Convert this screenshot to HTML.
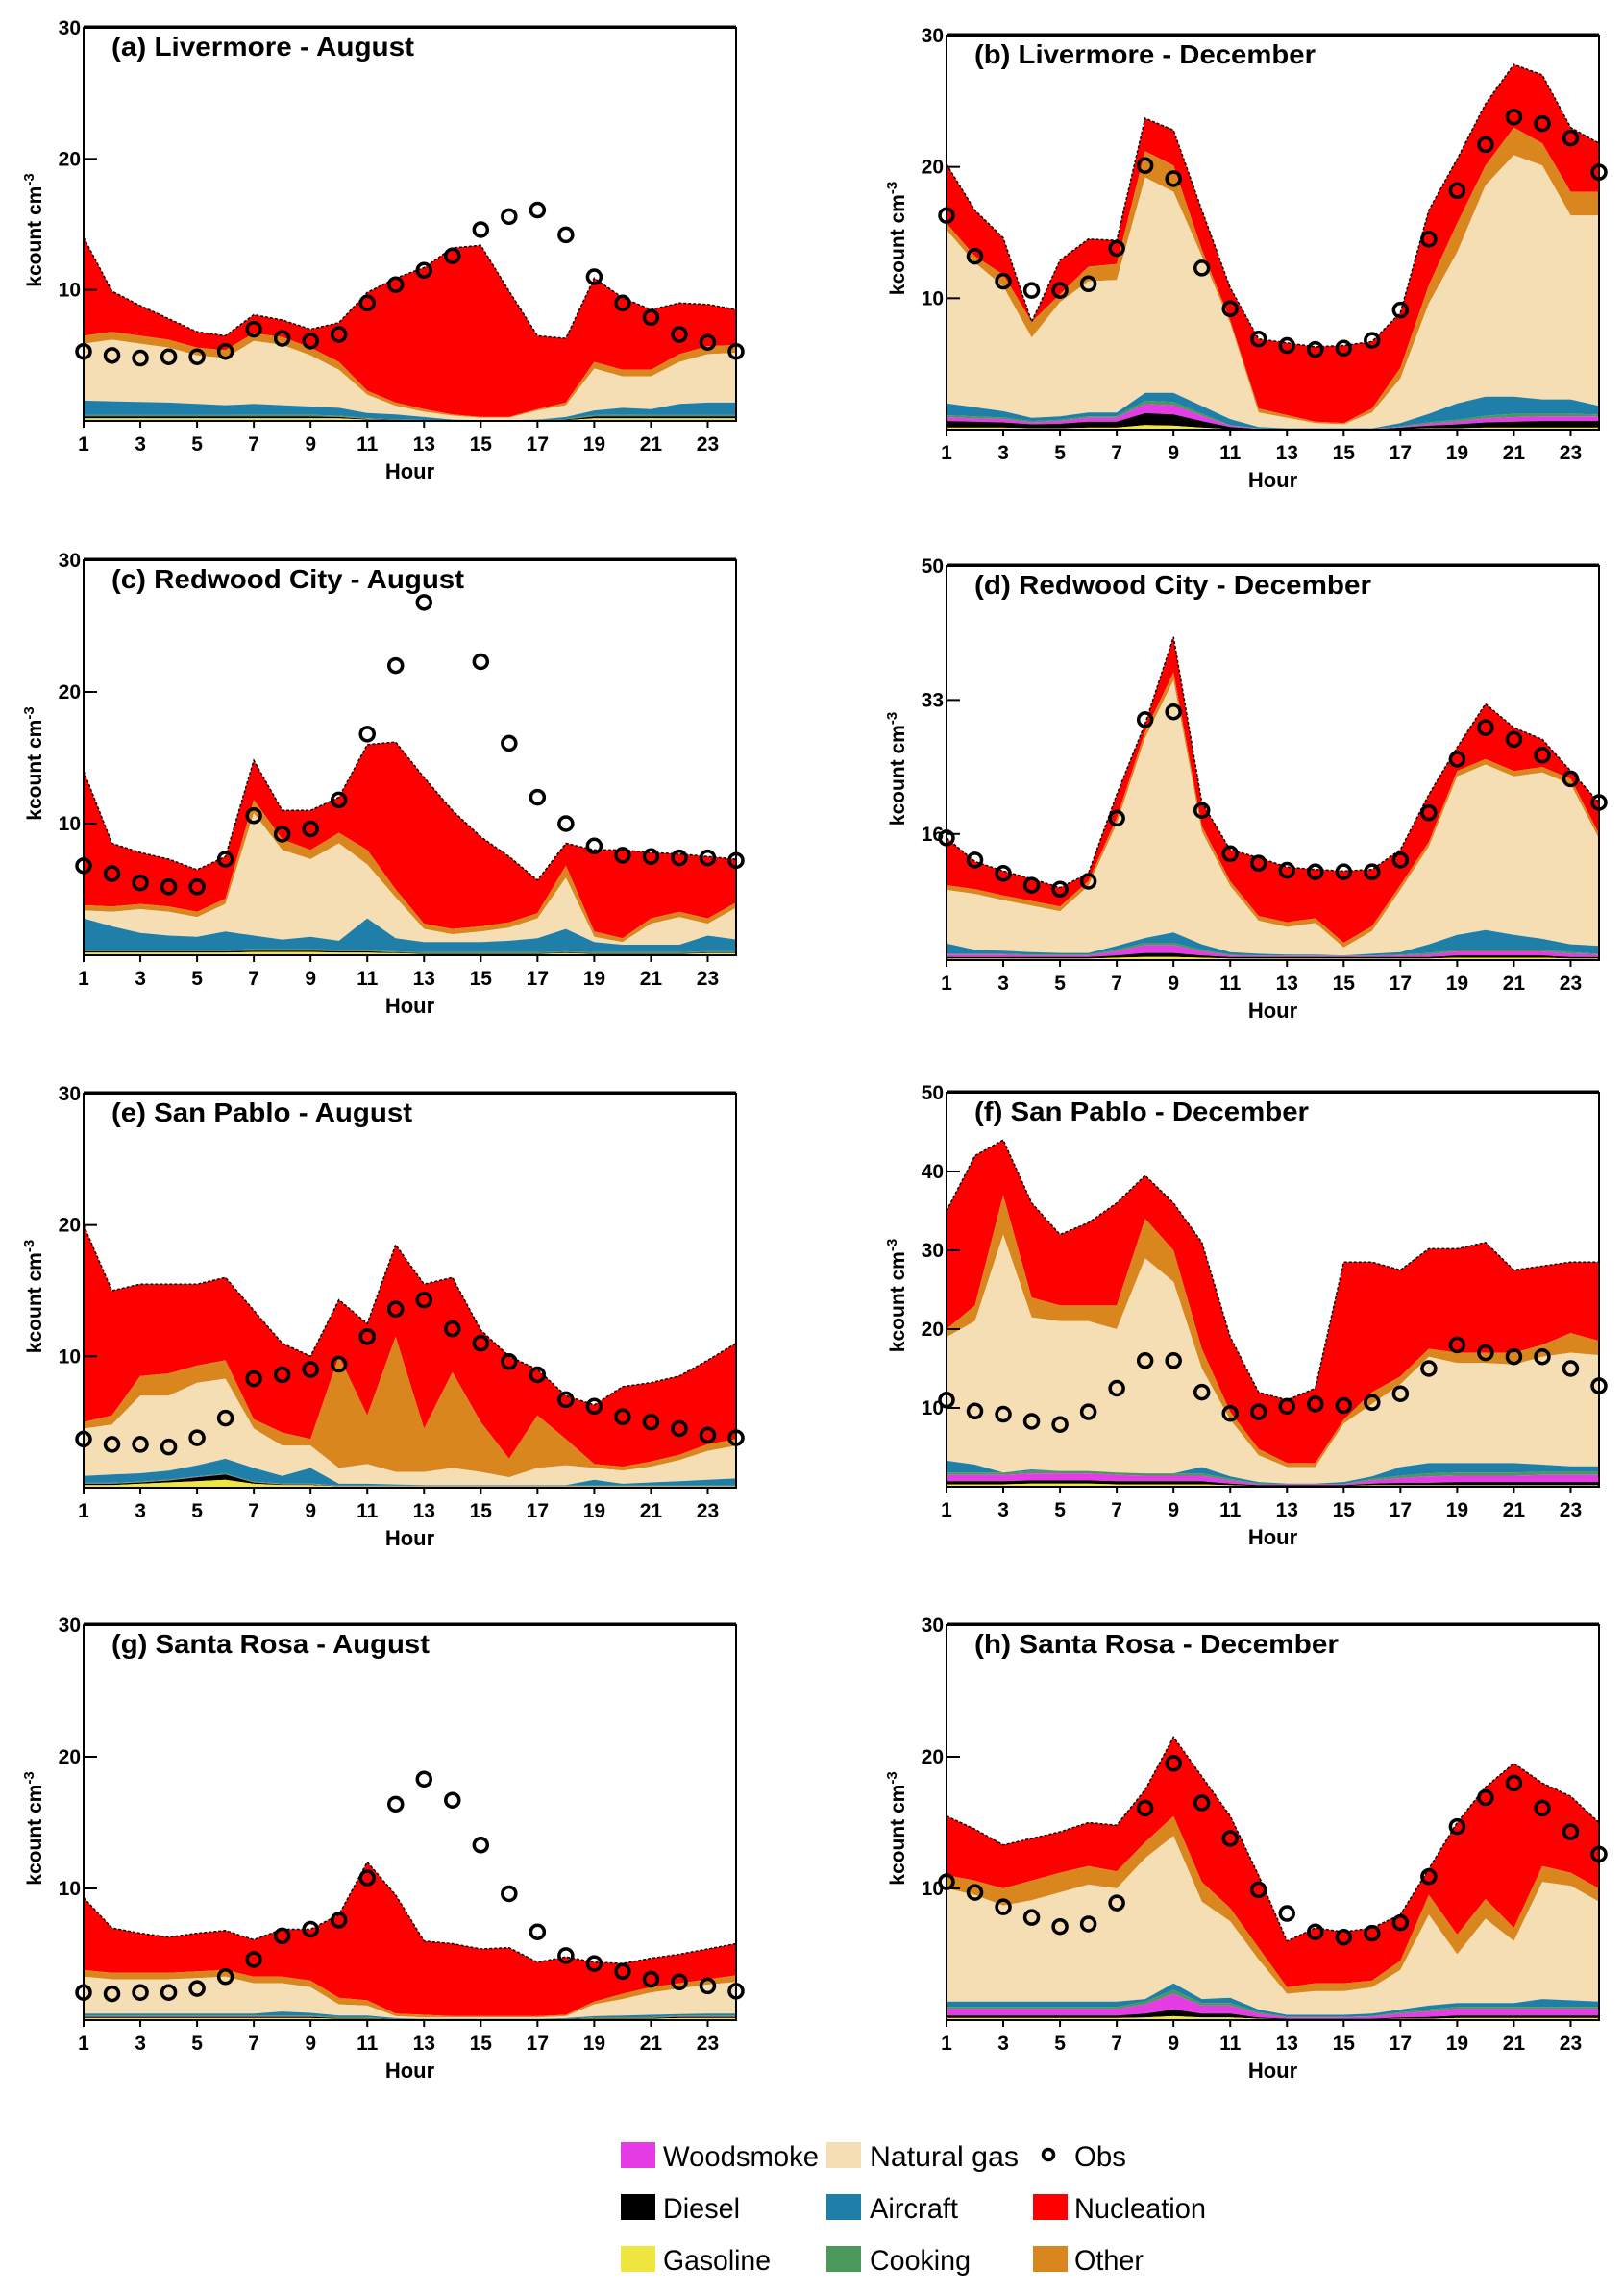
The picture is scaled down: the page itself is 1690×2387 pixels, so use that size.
<!DOCTYPE html>
<html><head><meta charset="utf-8"><style>
html,body{margin:0;padding:0;background:#fff}
svg{display:block}
.tl{font-family:"Liberation Sans Narrow","Liberation Sans",sans-serif;font-weight:bold;fill:#000}
.lg{font-family:"Liberation Sans",sans-serif;fill:#000;font-size:30px}
</style></head><body>
<svg id="fig" width="1690" height="2387" viewBox="0 0 1690 2387" xmlns="http://www.w3.org/2000/svg">
<rect width="1690" height="2387" fill="#fff"/>
<g id="legend">
<g><rect x="646" y="2229" width="36" height="27" fill="#e63ce6"/><text class="lg" x="690" y="2254" textLength="162" lengthAdjust="spacingAndGlyphs">Woodsmoke</text></g>
<g><rect x="860" y="2229" width="36" height="27" fill="#f5deb3"/><text class="lg" x="905" y="2254" textLength="155" lengthAdjust="spacingAndGlyphs">Natural  gas</text></g>
<g><circle cx="1091" cy="2242" r="5.5" fill="none" stroke="#000" stroke-width="3.5"/><text class="lg" x="1118" y="2254" textLength="54" lengthAdjust="spacingAndGlyphs">Obs</text></g>
<g><rect x="646" y="2283" width="36" height="27" fill="#000"/><text class="lg" x="690" y="2308" textLength="80" lengthAdjust="spacingAndGlyphs">Diesel</text></g>
<g><rect x="860" y="2283" width="36" height="27" fill="#1f7fa8"/><text class="lg" x="905" y="2308" textLength="92" lengthAdjust="spacingAndGlyphs">Aircraft</text></g>
<g><rect x="1075" y="2283" width="36" height="27" fill="#ff0000"/><text class="lg" x="1118" y="2308" textLength="137" lengthAdjust="spacingAndGlyphs">Nucleation</text></g>
<g><rect x="646" y="2337" width="36" height="27" fill="#f0e640"/><text class="lg" x="690" y="2362" textLength="112" lengthAdjust="spacingAndGlyphs">Gasoline</text></g>
<g><rect x="860" y="2337" width="36" height="27" fill="#4a985a"/><text class="lg" x="905" y="2362" textLength="105" lengthAdjust="spacingAndGlyphs">Cooking</text></g>
<g><rect x="1075" y="2337" width="36" height="27" fill="#d9861e"/><text class="lg" x="1118" y="2362" textLength="72" lengthAdjust="spacingAndGlyphs">Other</text></g>
</g>
</svg>
<script>
const HOURS = [1,2,3,4,5,6,7,8,9,10,11,12,13,14,15,16,17,18,19,20,21,22,23,24];
const XTICKS = [1,3,5,7,9,11,13,15,17,19,21,23];

// (a) Livermore - August
const A_GAS = [0.2,0.2,0.2,0.2,0.2,0.2,0.2,0.2,0.2,0.2,0.1,0.05,0.03,0.02,0.02,0.02,0.03,0.05,0.2,0.2,0.2,0.2,0.2,0.2];
const A_DIESEL = [0.15,0.15,0.15,0.15,0.15,0.15,0.15,0.15,0.15,0.1,0.05,0.03,0.02,0.01,0.01,0.01,0.02,0.05,0.15,0.15,0.15,0.15,0.15,0.15];
const A_WOOD = [0.02,0.02,0.02,0.02,0.02,0.02,0.02,0.02,0.02,0.02,0.01,0,0,0,0,0,0,0,0.02,0.02,0.02,0.02,0.02,0.02];
const A_COOK = [0.08,0.08,0.08,0.08,0.08,0.08,0.1,0.1,0.1,0.08,0.05,0.03,0.02,0.01,0.01,0.01,0.02,0.05,0.08,0.1,0.08,0.08,0.08,0.08];
const A_AIR_TOP = [1.55,1.5,1.45,1.4,1.3,1.2,1.3,1.2,1.1,1.0,0.6,0.5,0.3,0.1,0.05,0.05,0.1,0.3,0.8,1.0,0.9,1.3,1.4,1.4];
const A_NG_TOP = [5.9,6.2,5.9,5.6,5.0,4.8,6.1,5.8,5.0,3.9,2.0,1.15,0.7,0.4,0.25,0.25,0.8,1.2,4.0,3.4,3.4,4.5,5.1,5.2];
const A_OTHER_TOP = [6.5,6.8,6.5,6.2,5.6,5.4,6.7,6.4,5.6,4.5,2.3,1.4,0.9,0.5,0.3,0.3,0.9,1.4,4.5,3.9,3.9,5.1,5.7,5.8];
const A_TOTAL = [14,9.9,8.8,7.8,6.8,6.5,8.1,7.7,7.0,7.5,9.8,10.9,11.7,13.2,13.4,9.9,6.5,6.3,10.9,9.4,8.5,9,8.9,8.5];
const A_OBS = [5.3,5.0,4.8,4.9,4.9,5.3,7.0,6.3,6.1,6.6,9.0,10.4,11.5,12.6,14.6,15.6,16.1,14.2,11.0,9.0,7.9,6.6,6.0,5.3];

// (b) Livermore - December
const B_GAS = [0.15,0.15,0.15,0.1,0.1,0.15,0.15,0.35,0.3,0.15,0.05,0.02,0.01,0.01,0.01,0.01,0.05,0.1,0.1,0.15,0.15,0.15,0.15,0.15];
const B_DIESEL = [0.5,0.45,0.4,0.3,0.35,0.45,0.45,0.9,0.85,0.5,0.15,0.03,0.02,0.01,0.01,0.02,0.1,0.2,0.3,0.4,0.45,0.5,0.5,0.5];
const B_WOOD = [0.3,0.25,0.25,0.15,0.2,0.3,0.3,0.7,0.7,0.4,0.1,0.02,0.01,0,0,0.01,0.05,0.15,0.2,0.3,0.35,0.35,0.35,0.35];
const B_COOK = [0.15,0.15,0.12,0.1,0.1,0.12,0.12,0.25,0.25,0.15,0.05,0.02,0,0,0,0,0.05,0.1,0.15,0.2,0.25,0.2,0.2,0.15];
const B_AIR_TOP = [2.0,1.7,1.4,0.9,1.0,1.3,1.3,2.8,2.8,1.8,0.8,0.2,0.1,0.1,0.1,0.1,0.5,1.2,2.0,2.5,2.5,2.3,2.3,1.8];
const B_NG_TOP = [15.2,12.7,10.9,7.0,9.7,11.3,11.4,19.2,18.1,13.2,8.1,1.3,0.9,0.5,0.4,1.3,3.9,9.6,13.5,18.6,20.9,20.1,16.3,16.3];
const B_OTHER_TOP = [15.7,13.2,11.8,8.2,10.3,12.4,12.6,21.2,20.1,13.7,8.3,1.6,1.1,0.6,0.5,1.6,4.7,11,15.7,20.1,23,21.8,18.1,18.1];
const B_TOTAL = [20.2,16.7,14.6,8.2,12.9,14.5,14.4,23.7,22.8,16.7,10.8,6.9,6.6,6.3,6.4,6.7,8.9,16.7,20.6,24.8,27.8,27,23,21.8];
const B_OBS = [16.3,13.2,11.3,10.6,10.6,11.1,13.8,20.1,19.1,12.3,9.2,6.9,6.4,6.1,6.2,6.8,9.1,14.5,18.2,21.7,23.8,23.3,22.2,19.6];

// (c) Redwood City - August
const C_GAS = [0.2,0.2,0.2,0.2,0.2,0.2,0.25,0.25,0.25,0.2,0.2,0.15,0.1,0.1,0.1,0.1,0.1,0.15,0.1,0.1,0.1,0.1,0.15,0.15];
const C_DIESEL = [0.1,0.1,0.1,0.1,0.1,0.1,0.1,0.1,0.1,0.1,0.1,0.05,0.05,0.05,0.05,0.05,0.05,0.05,0.05,0.05,0.05,0.05,0.05,0.05];
const C_WOOD = [0.02,0.02,0.02,0.02,0.02,0.02,0.02,0.02,0.02,0.02,0.02,0.02,0.02,0.02,0.02,0.02,0.02,0.02,0.02,0.02,0.02,0.02,0.02,0.02];
const C_COOK = [0.08,0.08,0.08,0.08,0.08,0.08,0.1,0.1,0.1,0.1,0.1,0.08,0.08,0.08,0.08,0.08,0.08,0.08,0.08,0.08,0.08,0.08,0.08,0.08];
const C_AIR_TOP = [2.8,2.2,1.7,1.5,1.4,1.8,1.5,1.2,1.4,1.1,2.8,1.3,1.0,1.0,1.0,1.1,1.3,2.0,1.0,0.8,0.8,0.8,1.5,1.2];
const C_NG_TOP = [3.4,3.3,3.5,3.3,2.9,3.9,10.8,8.0,7.3,8.5,6.9,4.4,2.0,1.6,1.8,2.1,2.8,5.9,1.4,1.0,2.4,2.9,2.4,3.6];
const C_OTHER_TOP = [3.8,3.7,3.9,3.7,3.3,4.3,11.8,8.8,8.0,9.3,8.0,5.0,2.4,2.0,2.2,2.5,3.2,6.8,1.8,1.3,2.8,3.3,2.8,4.0];
const C_TOTAL = [14,8.5,7.8,7.3,6.5,7.5,14.8,11,11,12,16,16.2,13.5,11,9,7.5,5.7,8.5,8,8,7.8,7.7,7.5,7.3];
const C_OBS = [6.8,6.2,5.5,5.2,5.2,7.3,10.6,9.2,9.6,11.8,16.8,22,26.8,null,22.3,16.1,12,10,8.3,7.6,7.5,7.4,7.4,7.2];

// (d) Redwood City - December
const D_GAS = [0.2,0.2,0.2,0.2,0.2,0.2,0.3,0.4,0.4,0.3,0.2,0.2,0.2,0.2,0.2,0.2,0.2,0.2,0.3,0.3,0.3,0.3,0.2,0.2];
const D_DIESEL = [0.2,0.2,0.2,0.2,0.2,0.2,0.3,0.5,0.5,0.3,0.2,0.2,0.2,0.2,0.2,0.2,0.2,0.2,0.3,0.3,0.3,0.3,0.2,0.2];
const D_WOOD = [0.3,0.3,0.3,0.2,0.2,0.2,0.5,1.0,1.0,0.5,0.2,0.1,0.1,0.1,0.1,0.1,0.2,0.3,0.5,0.5,0.5,0.5,0.4,0.3];
const D_COOK = [0.1,0.1,0.1,0.1,0.1,0.1,0.2,0.3,0.3,0.2,0.1,0.1,0.1,0.1,0.1,0.1,0.1,0.2,0.2,0.2,0.2,0.2,0.2,0.1];
const D_AIR_TOP = [2.1,1.3,1.2,1.0,0.9,0.9,1.8,2.8,3.5,2.0,1.0,0.8,0.7,0.7,0.6,0.8,1.0,2.0,3.2,3.8,3.2,2.7,2.0,1.8];
const D_NG_TOP = [8.9,8.4,7.6,6.9,6.2,9.4,17.3,28.2,35.5,16.3,9.4,5.0,4.2,4.7,1.6,3.7,8.9,14.4,23.3,24.8,23.3,23.8,22.3,15.4];
const D_OTHER_TOP = [9.5,9,8.2,7.5,6.8,10,18,29,36.5,17,10,5.6,4.8,5.3,2.2,4.3,9.5,15,24,25.5,24,24.5,23,16];
const D_TOTAL = [15.5,12.5,11.3,10.3,9.2,11,21,30,41,20,14,13,11.8,11.5,11.3,11.5,14,21,27,32.5,29.5,28,24,20];
const D_OBS = [15.5,12.7,11,9.5,9,10,18,30.5,31.5,19,13.5,12.3,11.4,11.2,11.2,11.2,12.7,18.7,25.5,29.5,28,26,23,20];

// (e) San Pablo - August
const E_GAS = [0.2,0.2,0.3,0.4,0.5,0.6,0.3,0.2,0.2,0.1,0.1,0.1,0.1,0.1,0.1,0.1,0.1,0.1,0.1,0.1,0.1,0.1,0.1,0.1];
const E_DIESEL = [0.1,0.1,0.1,0.15,0.3,0.4,0.1,0.05,0.05,0.02,0.02,0.02,0.02,0.02,0.02,0.02,0.02,0.02,0.02,0.02,0.02,0.02,0.02,0.02];
const E_WOOD = [0.02,0.02,0.02,0.02,0.02,0.02,0.02,0.02,0.02,0.02,0.02,0.02,0.02,0.02,0.02,0.02,0.02,0.02,0.02,0.02,0.02,0.02,0.02,0.02];
const E_COOK = [0.05,0.05,0.05,0.05,0.05,0.05,0.05,0.05,0.05,0.03,0.03,0.03,0.03,0.03,0.03,0.03,0.03,0.03,0.03,0.03,0.03,0.03,0.03,0.03];
const E_AIR_TOP = [0.9,1.0,1.1,1.3,1.7,2.2,1.5,0.9,1.5,0.3,0.3,0.25,0.2,0.2,0.2,0.2,0.2,0.2,0.6,0.3,0.4,0.5,0.6,0.7];
const E_NG_TOP = [4.5,4.8,7,7,8,8.3,4.5,3.2,3.2,1.5,1.8,1.2,1.2,1.5,1.2,0.8,1.5,1.7,1.5,1.3,1.6,2.1,2.8,3.2];
const E_OTHER_TOP = [5,5.5,8.5,8.7,9.3,9.7,5.2,4.2,3.7,10,5.5,11.5,4.5,8.8,5.0,2.2,5.5,3.7,1.8,1.6,2.0,2.5,3.3,3.7];
const E_TOTAL = [20,15,15.5,15.5,15.5,16,13.5,11,10,14.3,12.5,18.5,15.5,16,12,10,9,7,6.3,7.7,8,8.5,9.7,11];
const E_OBS = [3.7,3.3,3.3,3.1,3.8,5.3,8.3,8.6,9.0,9.4,11.5,13.6,14.3,12.1,11.0,9.6,8.6,6.7,6.2,5.4,5.0,4.5,4.0,3.8];

// (f) San Pablo - December
const F_GAS = [0.3,0.3,0.3,0.4,0.4,0.4,0.3,0.3,0.3,0.3,0.2,0.1,0.1,0.1,0.1,0.2,0.2,0.2,0.2,0.2,0.2,0.2,0.2,0.2];
const F_DIESEL = [0.4,0.4,0.4,0.4,0.4,0.4,0.4,0.4,0.4,0.4,0.2,0.1,0.1,0.1,0.1,0.2,0.3,0.3,0.4,0.4,0.4,0.4,0.4,0.4];
const F_WOOD = [0.8,0.8,0.8,0.9,0.9,0.9,0.8,0.7,0.7,0.7,0.4,0.1,0.1,0.1,0.1,0.4,0.6,0.8,0.8,0.8,0.8,0.9,0.9,0.9];
const F_COOK = [0.3,0.3,0.3,0.3,0.3,0.3,0.3,0.3,0.3,0.3,0.2,0.1,0.05,0.05,0.05,0.2,0.3,0.4,0.4,0.4,0.4,0.4,0.4,0.4];
const F_AIR_TOP = [3.3,2.8,1.5,2.2,2.0,1.8,1.8,1.5,1.5,2.5,1.3,0.6,0.4,0.4,0.6,1.3,2.5,3.0,3.0,3.0,3.0,2.8,2.6,2.6];
const F_NG_TOP = [19,21,32,21.5,21,21,20,29,26,15,8.5,4,2.5,2.5,8,10.5,13,16.5,15.7,15.7,15.5,16.5,17,16.7];
const F_OTHER_TOP = [20,23,37,24,23,23,23,34,30,17.5,9.5,4.8,3,3,8.5,12,14,17.5,17,17,17,18,19.5,18.5];
const F_TOTAL = [35,42,44,36,32,33.5,36,39.5,36,31,19,12,11,12.5,28.5,28.5,27.5,30.2,30.2,31,27.5,28,28.5,28.5];
const F_OBS = [11,9.6,9.2,8.3,7.9,9.5,12.5,16,16,12,9.3,9.5,10.2,10.5,10.3,10.7,11.8,15,18,17,16.5,16.5,15,12.8];

// (g) Santa Rosa - August
const G_GAS = [0.15,0.15,0.15,0.15,0.15,0.15,0.15,0.15,0.15,0.1,0.1,0.05,0.05,0.05,0.05,0.05,0.05,0.05,0.1,0.1,0.1,0.15,0.15,0.15];
const G_DIESEL = [0.1,0.1,0.1,0.1,0.1,0.1,0.1,0.1,0.1,0.05,0.05,0.02,0.02,0.02,0.02,0.02,0.02,0.02,0.05,0.05,0.05,0.1,0.1,0.1];
const G_WOOD = [0.02,0.02,0.02,0.02,0.02,0.02,0.02,0.02,0.02,0.02,0.02,0,0,0,0,0,0,0,0.02,0.02,0.02,0.02,0.02,0.02];
const G_COOK = [0.08,0.08,0.08,0.08,0.08,0.08,0.08,0.08,0.08,0.05,0.05,0.02,0.02,0.02,0.02,0.02,0.02,0.02,0.05,0.05,0.05,0.08,0.08,0.08];
const G_AIR_TOP = [0.5,0.5,0.5,0.5,0.5,0.5,0.5,0.65,0.55,0.35,0.35,0.15,0.1,0.1,0.1,0.1,0.1,0.15,0.3,0.35,0.4,0.45,0.5,0.5];
const G_NG_TOP = [3.3,3.1,3.1,3.1,3.2,3.3,2.8,2.8,2.5,1.2,1.1,0.3,0.2,0.2,0.2,0.2,0.2,0.3,1.2,1.6,2.1,2.4,2.7,2.9];
const G_OTHER_TOP = [3.8,3.6,3.6,3.6,3.7,3.8,3.3,3.3,3.0,1.7,1.5,0.5,0.4,0.3,0.3,0.3,0.3,0.4,1.4,2.0,2.5,2.8,3.1,3.4];
const G_TOTAL = [9.3,7.0,6.6,6.3,6.6,6.8,6.1,6.9,6.9,8.0,12,9.5,6.0,5.8,5.4,5.5,4.4,4.8,4.4,4.3,4.7,5.0,5.4,5.8];
const G_OBS = [2.1,2.0,2.1,2.1,2.4,3.3,4.6,6.4,6.9,7.6,10.8,16.4,18.3,16.7,13.3,9.6,6.7,4.9,4.3,3.7,3.1,2.9,2.6,2.2];

// (h) Santa Rosa - December
const H_GAS = [0.15,0.15,0.15,0.15,0.15,0.15,0.15,0.2,0.3,0.2,0.2,0.1,0.05,0.05,0.05,0.05,0.1,0.1,0.15,0.15,0.15,0.15,0.15,0.15];
const H_DIESEL = [0.2,0.2,0.2,0.2,0.2,0.2,0.2,0.3,0.5,0.3,0.3,0.1,0.05,0.05,0.05,0.05,0.1,0.15,0.2,0.2,0.2,0.2,0.2,0.2];
const H_WOOD = [0.5,0.5,0.5,0.5,0.5,0.5,0.5,0.7,1.2,0.6,0.6,0.3,0.1,0.1,0.1,0.15,0.3,0.4,0.5,0.5,0.5,0.5,0.5,0.5];
const H_COOK = [0.15,0.15,0.15,0.15,0.15,0.15,0.15,0.2,0.3,0.2,0.2,0.1,0.05,0.05,0.05,0.05,0.1,0.15,0.15,0.15,0.15,0.15,0.15,0.15];
const H_AIR_TOP = [1.4,1.4,1.4,1.4,1.4,1.4,1.4,1.6,2.8,1.6,1.7,0.8,0.4,0.4,0.4,0.5,0.8,1.1,1.3,1.3,1.3,1.6,1.5,1.4];
const H_NG_TOP = [10,9.5,8.7,9.1,9.7,10.3,10,12.3,14,9,7.5,4.6,2.0,2.2,2.2,2.5,3.8,8,5,7.7,6,10.5,10.2,9];
const H_OTHER_TOP = [11,10.6,10,10.6,11.2,11.7,11.3,13.5,15.5,10.5,8.5,5.5,2.5,2.8,2.8,3.0,4.5,9.5,6.5,9.2,7,11.7,11.2,10];
const H_TOTAL = [15.5,14.5,13.3,13.8,14.3,15,14.8,17.5,21.5,18.5,15.5,11,6,7,6.7,7,8,11.5,15,17.7,19.5,18,17,15];
const H_OBS = [10.5,9.7,8.6,7.8,7.1,7.3,8.9,16.1,19.5,16.5,13.8,9.9,8.1,6.7,6.3,6.6,7.4,10.9,14.7,16.9,18,16.1,14.3,12.6];

const COLORS = {gas:'#f0e640',diesel:'#000000',wood:'#e63ce6',cook:'#4a985a',air:'#1f7fa8',ng:'#f5deb3',other:'#d9861e',nuc:'#ff0000'};
const NS = 'http://www.w3.org/2000/svg';
const fig = document.getElementById('fig');

function mk(tag, attrs, parent){
  const e = document.createElementNS(NS, tag);
  for (const k in attrs) e.setAttribute(k, attrs[k]);
  parent.appendChild(e);
  return e;
}

function drawPanel(p){
  const g = mk('g', {}, fig);
  
  
  const xs = h => p.x0 + (h - 1) / 23 * (p.x1 - p.x0);
  const ys = v => p.y1 - v / p.max * (p.y1 - p.y0);
  // cumulative stacks
  const n = HOURS.length;
  const c1 = [], c2 = [], c3 = [], c4 = [], c5 = [], c6 = [], c7 = [], c8 = [];
  for (let i = 0; i < n; i++) {
    c1[i] = p.gas[i];
    c2[i] = c1[i] + p.diesel[i];
    c3[i] = c2[i] + p.wood[i];
    c4[i] = c3[i] + p.cook[i];
    c5[i] = Math.max(p.airTop[i], c4[i]);
    c6[i] = Math.max(p.ngTop[i], c5[i]);
    c7[i] = Math.max(p.otherTop[i], c6[i]);
    c8[i] = Math.max(p.total[i], c7[i]);
  }
  const zero = HOURS.map(() => 0);
  const layers = [
    ['nucleation', c7, c8, COLORS.nuc],
    ['other', c6, c7, COLORS.other],
    ['natural-gas', c5, c6, COLORS.ng],
    ['aircraft', c4, c5, COLORS.air],
    ['cooking', c3, c4, COLORS.cook],
    ['woodsmoke', c2, c3, COLORS.wood],
    ['diesel', c1, c2, COLORS.diesel],
    ['gasoline', zero, c1, COLORS.gas]
  ];
  layers.forEach(([name, lo, hi, col]) => {
    let d = '';
    HOURS.forEach((h, i) => { d += (i ? 'L' : 'M') + xs(h).toFixed(1) + ' ' + ys(hi[i]).toFixed(1); });
    for (let i = n - 1; i >= 0; i--) d += 'L' + xs(HOURS[i]).toFixed(1) + ' ' + ys(lo[i]).toFixed(1);
    const path = mk('path', {d: d + 'Z', fill: col, stroke: 'none'}, g);
    
    
  });
  let dt = '';
  HOURS.forEach((h, i) => { dt += (i ? 'L' : 'M') + xs(h).toFixed(1) + ' ' + ys(c8[i]).toFixed(1); });
  const tl = mk('path', {d: dt, fill: 'none', stroke: '#000', 'stroke-width': 1.5, 'stroke-dasharray': '3 2'}, g);
  
  
  // frame
  const fr = mk('rect', {x: p.x0, y: p.y0, width: p.x1 - p.x0, height: p.y1 - p.y0, fill: 'none', stroke: '#000', 'stroke-width': 2}, g);
  
  
  mk('line', {x1: p.x0, y1: p.y0 - 1, x2: p.x1, y2: p.y0 - 1, stroke: '#000', 'stroke-width': 3}, g);
  // obs
  HOURS.forEach((h, i) => {
    const v = p.obs[i];
    if (v === null) return;
    const c = mk('circle', {cx: xs(h), cy: ys(v), r: 7, fill: 'none', stroke: '#000', 'stroke-width': 3.5}, g);
    
    
  });
  // y ticks
  p.yticks.forEach(t => {
    mk('line', {x1: p.x0, y1: ys(t), x2: p.x0 + 14, y2: ys(t), stroke: '#000', 'stroke-width': 2}, g);
    const tx = mk('text', {x: p.x0 - 3, y: ys(t) + 7, 'text-anchor': 'end', 'font-size': 21, class: 'tl'}, g);
    tx.textContent = String(t);
    
    
  });
  // x ticks
  XTICKS.forEach(h => {
    mk('line', {x1: xs(h), y1: p.y1, x2: xs(h), y2: p.y1 + 7, stroke: '#000', 'stroke-width': 2}, g);
    const tx = mk('text', {x: xs(h), y: p.y1 + 31, 'text-anchor': 'middle', 'font-size': 21, class: 'tl'}, g);
    tx.textContent = String(h);
    
    
  });
  const xt = mk('text', {x: (p.x0 + p.x1) / 2, y: p.y1 + 60, 'text-anchor': 'middle', 'font-size': 22, class: 'tl'}, g);
  xt.textContent = 'Hour';
  
  
  const ym = (p.y0 + p.y1) / 2;
  const yt = mk('text', {x: 0, y: 0, 'text-anchor': 'middle', 'font-size': 21, 'font-weight': 'bold', 'font-family': 'Liberation Sans, sans-serif', transform: 'translate(' + (p.x0 - 44) + ',' + (ym + 6) + ') rotate(-90)'}, g);
  yt.innerHTML = 'kcount cm<tspan dy="-8" font-size="15">-3</tspan>';
  
  
  const ti = mk('text', {x: p.x0 + 29, y: p.y0 + 29, 'font-size': 28, class: 'tl', textLength: p.tw, lengthAdjust: 'spacingAndGlyphs'}, g);
  ti.textContent = p.title;
  
  
}

const L0 = 87, L1 = 766, R0 = 985, R1 = 1664;
const PANELS = [
  {key:'a', title:'(a) Livermore - August', tw:315, x0:L0, x1:L1, y0:29, y1:438, max:30, yticks:[10,20,30], gas:A_GAS, diesel:A_DIESEL, wood:A_WOOD, cook:A_COOK, airTop:A_AIR_TOP, ngTop:A_NG_TOP, otherTop:A_OTHER_TOP, total:A_TOTAL, obs:A_OBS},
  {key:'b', title:'(b) Livermore - December', tw:355, x0:R0, x1:R1, y0:37, y1:447, max:30, yticks:[10,20,30], gas:B_GAS, diesel:B_DIESEL, wood:B_WOOD, cook:B_COOK, airTop:B_AIR_TOP, ngTop:B_NG_TOP, otherTop:B_OTHER_TOP, total:B_TOTAL, obs:B_OBS},
  {key:'c', title:'(c) Redwood City - August', tw:367, x0:L0, x1:L1, y0:583, y1:994, max:30, yticks:[10,20,30], gas:C_GAS, diesel:C_DIESEL, wood:C_WOOD, cook:C_COOK, airTop:C_AIR_TOP, ngTop:C_NG_TOP, otherTop:C_OTHER_TOP, total:C_TOTAL, obs:C_OBS},
  {key:'d', title:'(d) Redwood City - December', tw:413, x0:R0, x1:R1, y0:589, y1:999, max:50, yticks:[16,33,50], gas:D_GAS, diesel:D_DIESEL, wood:D_WOOD, cook:D_COOK, airTop:D_AIR_TOP, ngTop:D_NG_TOP, otherTop:D_OTHER_TOP, total:D_TOTAL, obs:D_OBS},
  {key:'e', title:'(e) San Pablo - August', tw:313, x0:L0, x1:L1, y0:1138, y1:1548, max:30, yticks:[10,20,30], gas:E_GAS, diesel:E_DIESEL, wood:E_WOOD, cook:E_COOK, airTop:E_AIR_TOP, ngTop:E_NG_TOP, otherTop:E_OTHER_TOP, total:E_TOTAL, obs:E_OBS},
  {key:'f', title:'(f) San Pablo - December', tw:348, x0:R0, x1:R1, y0:1137, y1:1547, max:50, yticks:[10,20,30,40,50], gas:F_GAS, diesel:F_DIESEL, wood:F_WOOD, cook:F_COOK, airTop:F_AIR_TOP, ngTop:F_NG_TOP, otherTop:F_OTHER_TOP, total:F_TOTAL, obs:F_OBS},
  {key:'g', title:'(g) Santa Rosa - August', tw:331, x0:L0, x1:L1, y0:1691, y1:2102, max:30, yticks:[10,20,30], gas:G_GAS, diesel:G_DIESEL, wood:G_WOOD, cook:G_COOK, airTop:G_AIR_TOP, ngTop:G_NG_TOP, otherTop:G_OTHER_TOP, total:G_TOTAL, obs:G_OBS},
  {key:'h', title:'(h) Santa Rosa - December', tw:379, x0:R0, x1:R1, y0:1691, y1:2102, max:30, yticks:[10,20,30], gas:H_GAS, diesel:H_DIESEL, wood:H_WOOD, cook:H_COOK, airTop:H_AIR_TOP, ngTop:H_NG_TOP, otherTop:H_OTHER_TOP, total:H_TOTAL, obs:H_OBS}
];
PANELS.forEach(drawPanel);
</script>
</body></html>
